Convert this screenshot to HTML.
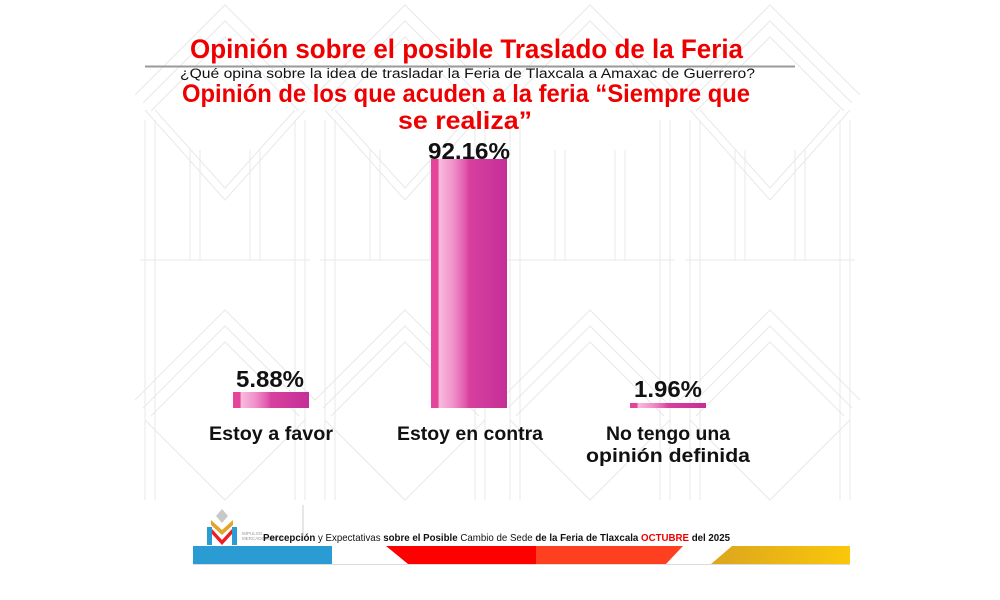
<!DOCTYPE html>
<html>
<head>
<meta charset="utf-8">
<style>
html,body{margin:0;padding:0;background:#fff;}
svg{display:block;}
text{font-family:"Liberation Sans",Arial,sans-serif;}
</style>
</head>
<body>
<svg width="1000" height="600" viewBox="0 0 1000 600" xmlns="http://www.w3.org/2000/svg">
<defs>
<linearGradient id="bar" x1="0" y1="0" x2="1" y2="0">
<stop offset="0" stop-color="#e5449b"/>
<stop offset="0.09" stop-color="#e5449b"/>
<stop offset="0.11" stop-color="#f8bbdd"/>
<stop offset="0.30" stop-color="#f08fc8"/>
<stop offset="0.45" stop-color="#e15aad"/>
<stop offset="0.50" stop-color="#d8409f"/>
<stop offset="1" stop-color="#c42e97"/>
</linearGradient>
<linearGradient id="gold" x1="0" y1="0" x2="1" y2="0">
<stop offset="0" stop-color="#dca51f"/>
<stop offset="1" stop-color="#fac70a"/>
</linearGradient>
</defs>
<rect width="1000" height="600" fill="#fff"/>

<!-- faint background pattern -->
<g stroke="#e8e8e8" stroke-width="1" fill="none">
  <path d="M135 95 L225 5 L315 95 M143 103 L225 21 L307 103 M151 111 L225 37 L299 111"/>
  <path d="M315 95 L405 5 L495 95 M323 103 L405 21 L487 103 M331 111 L405 37 L479 111"/>
  <path d="M500 95 L590 5 L680 95 M508 103 L590 21 L672 103"/>
  <path d="M680 95 L770 5 L860 95 M688 103 L770 21 L852 103 M696 111 L770 37 L844 111"/>
  <path d="M145 110 L225 200 L305 110 M155 110 L225 188 L295 110"/>
  <path d="M325 110 L405 200 L485 110 M335 110 L405 188 L475 110"/>
  <path d="M690 110 L770 200 L850 110 M700 110 L770 188 L840 110"/>
  <path d="M145 120 V500 M155 120 V500 M190 150 V260 M200 150 V260 M250 150 V260 M260 150 V260 M295 120 V500 M305 120 V500"/>
  <path d="M325 120 V500 M335 120 V500 M370 150 V260 M380 150 V260 M430 150 V260 M440 150 V260 M475 120 V500 M485 120 V500"/>
  <path d="M510 120 V500 M520 120 V500 M555 150 V260 M565 150 V260 M615 150 V260 M625 150 V260 M660 120 V500 M670 120 V500"/>
  <path d="M690 120 V500 M700 120 V500 M735 150 V260 M745 150 V260 M795 150 V260 M805 150 V260 M840 120 V500 M850 120 V500"/>
  <path d="M140 260 H310 M320 260 H490 M505 260 H675 M685 260 H855"/>
  <path d="M135 400 L225 310 L315 400 M143 408 L225 326 L307 408 M151 416 L225 342 L299 416"/>
  <path d="M315 400 L405 310 L495 400 M323 408 L405 326 L487 408 M331 416 L405 342 L479 416"/>
  <path d="M500 400 L590 310 L680 400 M508 408 L590 326 L672 408 M516 416 L590 342 L664 416"/>
  <path d="M680 400 L770 310 L860 400 M688 408 L770 326 L852 408 M696 416 L770 342 L844 416"/>
  <path d="M145 420 L225 500 L305 420 M325 420 L405 500 L485 420 M510 420 L590 500 L670 420 M690 420 L770 500 L850 420"/>
</g>

<!-- Titles -->
<text x="466.5" y="58" font-size="27" font-weight="bold" fill="#ee0000" text-anchor="middle" textLength="553" lengthAdjust="spacingAndGlyphs">Opinión sobre el posible Traslado de la Feria</text>
<line x1="145" y1="66.5" x2="795" y2="66.5" stroke="#9a9a9a" stroke-width="2"/>
<text x="467.5" y="78" font-size="13.5" fill="#111" text-anchor="middle" textLength="575" lengthAdjust="spacingAndGlyphs">¿Qué opina sobre la idea de trasladar la Feria de Tlaxcala a Amaxac de Guerrero?</text>
<text x="466" y="102" font-size="25" font-weight="bold" fill="#ee0000" text-anchor="middle" textLength="568" lengthAdjust="spacingAndGlyphs">Opinión de los que acuden a la feria “Siempre que</text>
<text x="465" y="129" font-size="25" font-weight="bold" fill="#ee0000" text-anchor="middle" textLength="134" lengthAdjust="spacingAndGlyphs">se realiza”</text>

<!-- Bars -->
<rect x="431" y="159" width="76" height="249" fill="url(#bar)"/>
<rect x="233" y="392" width="76" height="16" fill="url(#bar)"/>
<rect x="630" y="403" width="76" height="5" fill="url(#bar)"/>

<!-- Values -->
<text x="469" y="159" font-size="23.5" font-weight="bold" fill="#111" text-anchor="middle" textLength="82" lengthAdjust="spacingAndGlyphs">92.16%</text>
<text x="270" y="387" font-size="23.5" font-weight="bold" fill="#111" text-anchor="middle" textLength="68" lengthAdjust="spacingAndGlyphs">5.88%</text>
<text x="668" y="397" font-size="23.5" font-weight="bold" fill="#111" text-anchor="middle" textLength="68" lengthAdjust="spacingAndGlyphs">1.96%</text>

<!-- Category labels -->
<text x="271" y="440" font-size="19.5" font-weight="bold" fill="#111" text-anchor="middle" textLength="124" lengthAdjust="spacingAndGlyphs">Estoy a favor</text>
<text x="470" y="440" font-size="19.5" font-weight="bold" fill="#111" text-anchor="middle" textLength="146" lengthAdjust="spacingAndGlyphs">Estoy en contra</text>
<text x="668" y="440" font-size="19.5" font-weight="bold" fill="#111" text-anchor="middle" textLength="124" lengthAdjust="spacingAndGlyphs">No tengo una</text>
<text x="668" y="462" font-size="19.5" font-weight="bold" fill="#111" text-anchor="middle" textLength="164" lengthAdjust="spacingAndGlyphs">opinión definida</text>

<!-- Footer logo -->
<g>
  <path d="M222 509 L228 516 L222 523 L216 516 Z" fill="#c8c8c8"/>
  <path d="M211 520 L222 530 L233 520 L233 525 L222 535 L211 525 Z" fill="#e3a42a"/>
  <path d="M207 527 L212 527 L212 545 L207 545 Z" fill="#2b9bd3"/>
  <path d="M232 527 L237 527 L237 545 L232 545 Z" fill="#2b9bd3"/>
  <path d="M212 529 L222 540 L232 529 L232 534 L222 545 L212 534 Z" fill="#ee1c25"/>
  <text x="242" y="535" font-size="4.5" fill="#9a9a9a">IMPULSO</text>
  <text x="242" y="540" font-size="4.5" fill="#9a9a9a">MERCADOLÓGICO</text>
  <line x1="303" y1="505" x2="303" y2="541" stroke="#cfcfcf" stroke-width="1"/>
</g>
<text x="263" y="541" font-size="10.5" fill="#111" textLength="467" lengthAdjust="spacingAndGlyphs"><tspan font-weight="bold">Percepción</tspan> y Expectativas <tspan font-weight="bold">sobre el Posible</tspan> Cambio de Sede <tspan font-weight="bold">de la Feria de Tlaxcala</tspan> <tspan font-weight="bold" fill="#ee0000">OCTUBRE</tspan>  <tspan font-weight="bold">del 2025</tspan></text>

<!-- Footer band -->
<rect x="193" y="546" width="139" height="18" fill="#2b9bd3"/>
<polygon points="386,546 536,546 536,564 408,564" fill="#fe0000"/>
<polygon points="536,546 683,546 666,564 536,564" fill="#ff4020"/>
<polygon points="732,546 850,546 850,564 711,564" fill="url(#gold)"/>
<line x1="193" y1="564.5" x2="850" y2="564.5" stroke="#dcdcdc" stroke-width="1"/>
</svg>
</body>
</html>
